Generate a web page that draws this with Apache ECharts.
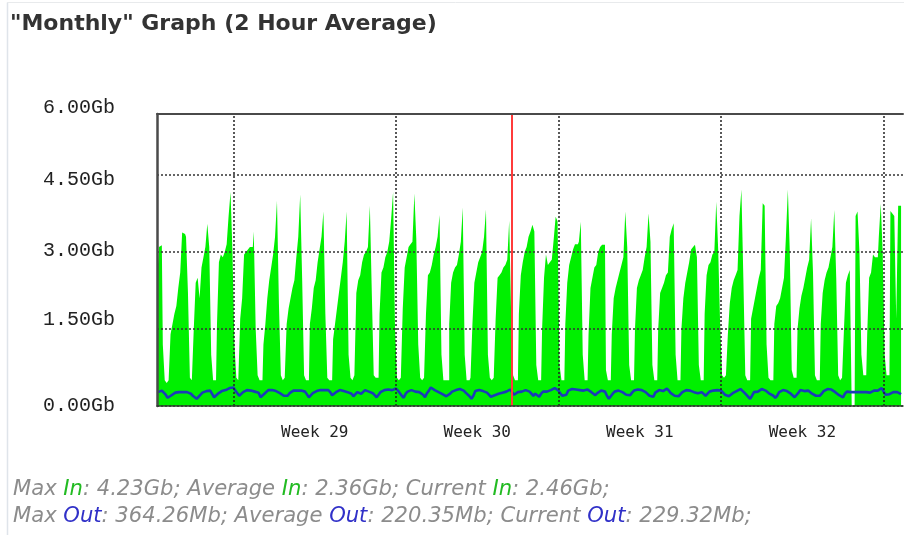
<!DOCTYPE html>
<html>
<head>
<meta charset="utf-8">
<script src="https://cdn.jsdelivr.net/npm/echarts@6/dist/echarts.min.js"></script>
<style>
html,body{margin:0;padding:0;background:#ffffff;}
#chart{width:904px;height:535px;}
</style>
</head>
<body>
<div id="chart"></div>
<script>
// ---- time layout (hours relative to the start of Week 29) ----
const firstSampleHour = -78;
const sampleHours = 2;
const weekStartHours = [0, 168, 336, 504, 672];
const monthMarkHour = 288;
const weekLabelHours = [84, 252, 420, 588];
const weekLabels = ['Week 29', 'Week 30', 'Week 31', 'Week 32'];

// ---- y ticks ----
const yTickValues = [0, 1.5, 3, 4.5, 5.69];
const yTickLabels = ['0.00Gb', '1.50Gb', '3.00Gb', '4.50Gb', '6.00Gb'];

// ---- In traffic (Gb), 2-hour averages ----
const inHead = [2.75, 3.10, 3.13];
const inWeek28 = [
  1.2, 0.5, 0.45, 0.5, 1.4, 1.6, 1.8, 1.95, 2.3, 2.6, 3.38, 3.35,
  3.3, 2.2, 0.55, 0.5, 1.5, 2.4, 2.5, 2.1, 2.7, 2.9, 3.1, 3.55,
  3.1, 1.0, 0.5, 0.5, 1.6, 2.8, 2.95, 2.9, 3.0, 3.15, 3.7, 4.17
];
const inWeek29 = [
  3.0, 1.2, 0.55, 0.5, 1.7, 2.1, 2.95, 3.0, 3.05, 3.1, 3.1, 3.4,
  1.5, 0.6, 0.5, 0.5, 1.2, 1.6, 2.1, 2.45, 2.7, 2.95, 3.3, 4.0,
  2.0, 0.6, 0.5, 0.55, 1.6, 1.9, 2.1, 2.3, 2.45, 2.9, 3.3, 4.12,
  2.5, 0.6, 0.5, 0.5, 1.6, 1.9, 2.3, 2.45, 2.8, 3.05, 3.3, 3.79,
  1.8, 0.55, 0.5, 0.5, 1.3, 1.6, 1.9, 2.2, 2.5, 2.8, 3.2, 3.79,
  1.0, 0.55, 0.5, 0.6, 2.2, 2.45, 2.55, 2.8, 2.95, 3.0, 3.1, 3.9,
  2.2, 0.6, 0.55, 0.55, 1.8, 2.6, 2.7, 2.9, 3.0, 3.2, 3.65, 4.17
];
const inWeek30 = [
  1.5, 0.55, 0.5, 0.55, 1.9, 2.7, 2.9, 3.1, 3.15, 3.2, 4.14, 3.25,
  1.2, 0.55, 0.5, 0.55, 1.8, 2.55, 2.6, 2.75, 2.95, 3.1, 3.3, 3.72,
  1.0, 0.5, 0.5, 0.5, 1.6, 2.4, 2.6, 2.7, 2.75, 2.95, 3.2, 3.87,
  1.0, 0.5, 0.5, 0.55, 1.6, 2.4, 2.6, 2.8, 2.9, 3.0, 3.3, 3.83,
  1.0, 0.55, 0.5, 0.55, 1.7, 2.5, 2.55, 2.6, 2.7, 2.75, 2.85, 3.61,
  1.8, 0.6, 0.5, 0.5, 1.8, 2.55, 2.8, 3.0, 3.1, 3.3, 3.4, 3.53,
  3.4, 0.8, 0.5, 0.5, 1.5, 2.5, 2.95, 2.75, 2.8, 2.85, 3.25, 3.69
];
const inWeek31 = [
  3.6, 0.8, 0.5, 0.5, 1.6, 2.4, 2.75, 2.9, 3.05, 3.15, 3.15, 3.2,
  3.59, 1.0, 0.5, 0.5, 1.4, 2.3, 2.5, 2.7, 2.75, 3.0, 3.1, 3.14,
  3.14, 0.7, 0.5, 0.5, 1.4, 2.1, 2.3, 2.45, 2.6, 2.75, 2.9, 3.79,
  3.1, 0.8, 0.5, 0.5, 1.5, 2.3, 2.45, 2.55, 2.65, 2.9, 3.1, 3.75,
  3.2, 0.8, 0.5, 0.5, 1.5, 2.2, 2.3, 2.4, 2.55, 2.6, 3.3, 3.45,
  3.56, 1.0, 0.5, 0.5, 1.5, 2.1, 2.4, 2.6, 2.8, 3.05, 3.1, 3.14,
  2.9, 0.8, 0.5, 0.5, 1.8, 2.55, 2.75, 2.8, 2.95, 3.0, 3.98, 3.05
];
const inWeek32 = [
  1.6, 0.6, 0.55, 0.6, 1.4, 2.0, 2.3, 2.45, 2.55, 2.65, 3.7, 4.22,
  2.5, 0.6, 0.5, 0.5, 1.7, 1.9, 2.1, 2.3, 2.5, 2.65, 3.95, 3.9,
  1.2, 0.55, 0.5, 0.5, 1.6, 1.95, 2.0, 2.1, 2.3, 2.5, 3.3, 4.22,
  3.0, 0.7, 0.55, 0.55, 1.5, 1.9, 2.15, 2.3, 2.5, 2.7, 2.85, 3.66,
  2.6, 0.6, 0.5, 0.5, 1.6, 2.2, 2.45, 2.6, 2.7, 2.9, 3.1, 3.82,
  2.5, 0.6, 0.5, 0.55, 1.5, 2.4, 2.55, 2.65, 0, 0, 3.7, 3.79,
  3.0, 1.0, 0.6, 0.6, 1.4, 2.5, 2.6, 2.95, 2.9, 2.9, 3.3, 3.94
];
const inWeek33 = [3.0, 1.0, 0.6, 0.6, 3.8, 3.75, 3.7, 1.7, 3.9, 3.9];

// ---- Out traffic (Gb), 2-hour averages ----
const outHead = [0.27, 0.28, 0.30];
const outWeek28 = [
  0.26, 0.22, 0.16, 0.18, 0.21, 0.24, 0.26, 0.27, 0.27, 0.28, 0.27, 0.27,
  0.27, 0.27, 0.24, 0.20, 0.17, 0.14, 0.18, 0.22, 0.26, 0.28, 0.29, 0.30,
  0.30, 0.29, 0.17, 0.20, 0.24, 0.27, 0.29, 0.30, 0.31, 0.33, 0.35, 0.364
];
const outWeek29 = [
  0.36, 0.30, 0.28, 0.20, 0.22, 0.27, 0.29, 0.31, 0.31, 0.30, 0.29, 0.28,
  0.27, 0.26, 0.17, 0.19, 0.24, 0.27, 0.31, 0.34, 0.31, 0.30, 0.29, 0.27,
  0.25, 0.22, 0.20, 0.17, 0.20, 0.25, 0.28, 0.30, 0.31, 0.30, 0.30, 0.30,
  0.29, 0.28, 0.27, 0.17, 0.20, 0.25, 0.28, 0.29, 0.30, 0.31, 0.31, 0.31,
  0.31, 0.31, 0.27, 0.21, 0.20, 0.27, 0.29, 0.31, 0.31, 0.29, 0.27, 0.27,
  0.26, 0.24, 0.19, 0.22, 0.27, 0.25, 0.24, 0.26, 0.31, 0.31, 0.28, 0.27,
  0.25, 0.21, 0.17, 0.22, 0.27, 0.28, 0.31, 0.34, 0.32, 0.31, 0.31, 0.33
];
const outWeek30 = [
  0.34, 0.30, 0.27, 0.20, 0.16, 0.24, 0.28, 0.30, 0.31, 0.29, 0.28, 0.27,
  0.27, 0.27, 0.22, 0.17, 0.25, 0.30, 0.36, 0.33, 0.31, 0.29, 0.27, 0.26,
  0.23, 0.21, 0.19, 0.17, 0.24, 0.28, 0.30, 0.31, 0.32, 0.33, 0.34, 0.30,
  0.26, 0.24, 0.19, 0.14, 0.20, 0.29, 0.30, 0.31, 0.31, 0.29, 0.27, 0.26,
  0.22, 0.18, 0.17, 0.21, 0.23, 0.24, 0.25, 0.26, 0.27, 0.28, 0.30, 0.32,
  0.33, 0.22, 0.25, 0.27, 0.27, 0.28, 0.31, 0.31, 0.30, 0.28, 0.25, 0.20,
  0.24, 0.21, 0.18, 0.24, 0.28, 0.27, 0.28, 0.30, 0.31, 0.33, 0.35, 0.36
];
const outWeek31 = [
  0.30, 0.24, 0.20, 0.17, 0.22, 0.30, 0.32, 0.33, 0.33, 0.32, 0.33, 0.31,
  0.29, 0.30, 0.31, 0.32, 0.32, 0.27, 0.24, 0.21, 0.25, 0.28, 0.30, 0.31,
  0.28, 0.20, 0.14, 0.19, 0.24, 0.28, 0.31, 0.30, 0.28, 0.27, 0.24, 0.22,
  0.20, 0.21, 0.26, 0.30, 0.31, 0.32, 0.33, 0.31, 0.28, 0.27, 0.24, 0.20,
  0.17, 0.18, 0.26, 0.29, 0.31, 0.30, 0.29, 0.32, 0.34, 0.30, 0.25, 0.22,
  0.20, 0.21, 0.19, 0.22, 0.27, 0.30, 0.31, 0.33, 0.30, 0.28, 0.27, 0.25,
  0.25, 0.27, 0.27, 0.24, 0.20, 0.24, 0.28, 0.29, 0.30, 0.30, 0.31, 0.28
];
const outWeek32 = [
  0.30, 0.27, 0.22, 0.20, 0.19, 0.21, 0.25, 0.27, 0.29, 0.31, 0.33, 0.30,
  0.26, 0.22, 0.18, 0.14, 0.20, 0.27, 0.28, 0.28, 0.30, 0.33, 0.34, 0.30,
  0.27, 0.24, 0.24, 0.20, 0.16, 0.20, 0.27, 0.29, 0.31, 0.31, 0.29, 0.26,
  0.24, 0.21, 0.17, 0.18, 0.26, 0.31, 0.30, 0.29, 0.31, 0.30, 0.27, 0.24,
  0.22, 0.20, 0.22, 0.20, 0.24, 0.29, 0.31, 0.33, 0.31, 0.32, 0.30, 0.27,
  0.24, 0.21, 0.19, 0.17, 0.24, 0.28, 0.27, 0.27, 0.27, 0.27, 0.27, 0.27,
  0.27, 0.27, 0.27, 0.27, 0.24, 0.26, 0.28, 0.30, 0.31, 0.30, 0.33, 0.35
];
const outWeek33 = [0.28, 0.22, 0.20, 0.23, 0.26, 0.27, 0.27, 0.27, 0.27, 0.23];

// ---- summary text values ----
const statsIn = ['4.23Gb', '2.36Gb', '2.46Gb'];
const statsOut = ['364.26Mb', '220.35Mb', '229.32Mb'];
const statNames = ['Max', 'Average', 'Current'];
const titleText = '"Monthly" Graph (2 Hour Average)';

// ---- build series ----
const inValues = [].concat(inHead, inWeek28, inWeek29, inWeek30, inWeek31, inWeek32, inWeek33);
const outValues = [].concat(outHead, outWeek28, outWeek29, outWeek30, outWeek31, outWeek32, outWeek33);
const toPairs = arr => arr.map((v, i) => [firstSampleHour + i * sampleHours, v]);

function statLine(label, vals) {
  let s = '';
  statNames.forEach((n, k) => {
    s += (k ? '{g| }' : '') + '{g|' + n + ' }{c|' + label + '}{g|: ' + vals[k] + ';}';
  });
  return s;
}

const dotted = {color: '#222', width: 1.5, type: [2, 2]};
const footFont = {fontSize: 21.1, fontStyle: 'italic', fontFamily: '"DejaVu Sans"'};
const yLabFont = {color: '#222', fontFamily: '"Liberation Mono"', fontSize: 20};

const chart = echarts.init(document.getElementById('chart'), null, {renderer: 'canvas'});
chart.setOption({
  animation: false,
  backgroundColor: '#ffffff',
  grid: {left: 157, top: 114, right: 1, bottom: 129},
  xAxis: [{
    type: 'value', min: -79, max: 692, position: 'bottom', z: 10,
    axisLine: {show: true, onZero: false, lineStyle: {color: '#2f3f2f', width: 1.5}},
    axisTick: {show: false},
    splitLine: {show: false},
    axisLabel: {
      show: true, customValues: weekLabelHours, margin: 19,
      color: '#222', fontFamily: '"DejaVu Sans Mono"', fontSize: 16,
      formatter: v => weekLabels[weekLabelHours.indexOf(v)] || ''
    }
  }, {
    type: 'value', min: -79, max: 692, position: 'top', z: 10,
    axisLine: {show: true, onZero: false, lineStyle: {color: '#4a4a4a', width: 2}},
    axisTick: {show: false}, axisLabel: {show: false}, splitLine: {show: false}
  }],
  yAxis: {
    type: 'value', min: 0, max: 5.69, interval: 1.5, z: 10,
    axisLine: {show: true, onZero: false, lineStyle: {color: '#4a4a4a', width: 2.5}},
    axisTick: {show: false},
    axisLabel: Object.assign({
      customValues: yTickValues, margin: 42,
      formatter: v => {
        let best = 0;
        yTickValues.forEach((t, k) => { if (Math.abs(t - v) < Math.abs(yTickValues[best] - v)) best = k; });
        return '{l' + best + '|' + yTickLabels[best] + '}';
      },
      rich: {
        l0: Object.assign({}, yLabFont),
        l1: Object.assign({padding: [0, 0, 18, 0]}, yLabFont),
        l2: Object.assign({padding: [0, 0, 2, 0]}, yLabFont),
        l3: Object.assign({padding: [10, 0, 0, 0]}, yLabFont),
        l4: Object.assign({padding: [0, 0, 12, 0]}, yLabFont)
      }
    }, yLabFont),
    splitLine: {show: true, lineStyle: {color: '#333', width: 1.5, type: [2, 2]}}
  },
  series: [{
    name: 'In', type: 'line', step: 'middle', data: toPairs(inValues),
    showSymbol: false, symbol: 'none', z: 2,
    lineStyle: {width: 0}, itemStyle: {color: '#00f000'},
    areaStyle: {color: '#00f000', opacity: 1}
  }, {
    name: 'Out', type: 'line', data: toPairs(outValues),
    showSymbol: false, symbol: 'none', z: 3,
    lineStyle: {color: '#1a3db8', width: 2.6}, itemStyle: {color: '#1a3db8'},
    markLine: {
      silent: true, symbol: ['none', 'none'], label: {show: false},
      data: weekStartHours.map(h => ({xAxis: h, lineStyle: dotted}))
        .concat([{xAxis: monthMarkHour, lineStyle: {color: '#ff3b3b', width: 2, type: 'solid'}}])
    }
  }],
  graphic: [
    {type: 'line', silent: true, shape: {x1: 7.5, y1: 2.5, x2: 7.5, y2: 535}, style: {stroke: '#dfe4ea', lineWidth: 1.5}},
    {type: 'line', silent: true, shape: {x1: 7, y1: 2.5, x2: 904, y2: 2.5}, style: {stroke: '#e8eaec', lineWidth: 1}},
    {type: 'text', left: 10, top: 13, silent: true,
      style: {text: titleText, fill: '#333333', font: 'bold 22px "DejaVu Sans"'}},
    {type: 'text', left: 13, top: 479, silent: true,
      style: {text: statLine('In', statsIn),
        rich: {g: Object.assign({fill: '#8c8c8c'}, footFont),
               c: Object.assign({fill: '#22bb22'}, footFont)}}},
    {type: 'text', left: 13, top: 506, silent: true,
      style: {text: statLine('Out', statsOut),
        rich: {g: Object.assign({fill: '#8c8c8c'}, footFont),
               c: Object.assign({fill: '#3030c8'}, footFont)}}}
  ]
});
</script>
</body>
</html>
